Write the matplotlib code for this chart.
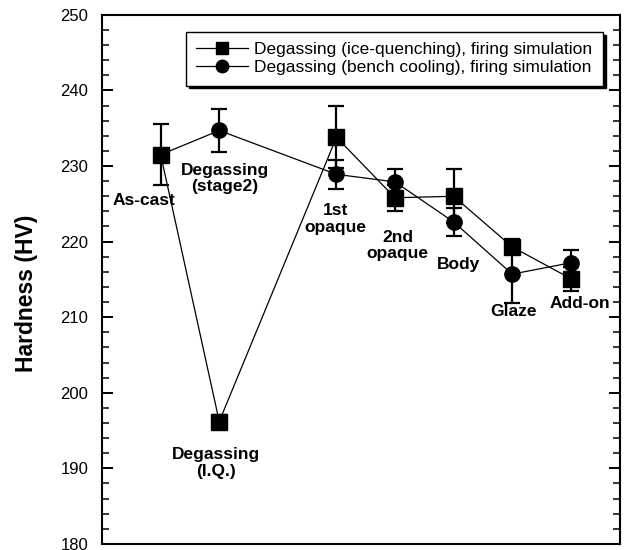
import matplotlib
matplotlib.use("Agg")
import matplotlib.pyplot as plt
from matplotlib.lines import Line2D
from matplotlib.ticker import MultipleLocator

plt.rcParams['font.family'] = ['Liberation Sans', 'DejaVu Sans']

# data
stages = ["As-cast", "Degassing\n(I.Q.)", "Degassing\n(stage2)", "1st\nopaque",
          "2nd\nopaque", "Body", "Glaze", "Add-on"]

iq_x = [1, 2, 4, 5, 6, 7, 8]
iq_hv = [231.5, 196.2, 233.8, 225.8, 226.0, 219.3, 215.1]
iq_err = [4.0, 0.9, 4.1, 1.7, 3.6, 1.0, 1.6]

bc_x = [1, 2, 4, 5, 6, 7, 8]
bc_hv = [231.5, 234.7, 228.9, 227.9, 222.6, 215.7, 217.2]
bc_err = [0.0, 2.9, 1.9, 1.7, 1.9, 3.8, 1.7]

# label centres near each point
label_x = [0.71, 1.95, 2.09, 3.98, 5.04, 6.08, 7.03, 8.16]
label_y = [225.5, 190.7, 228.4, 223.0, 219.5, 217.0, 210.7, 211.8]

fig, ax = plt.subplots(figsize=(6.34, 5.5), dpi=100)
fig.subplots_adjust(left=0.161, right=0.978, bottom=0.011, top=0.973)

ax.errorbar(bc_x, bc_hv, yerr=bc_err, color='black', marker='o', markersize=11,
            linewidth=0.9, elinewidth=1.6, capsize=5.5, capthick=1.6, zorder=2)
ax.errorbar(iq_x, iq_hv, yerr=iq_err, color='black', marker='s', markersize=11,
            linewidth=0.9, elinewidth=1.6, capsize=5.5, capthick=1.6, zorder=3)

for name, lx, ly in zip(stages, label_x, label_y):
    ax.text(lx, ly, name, ha='center', va='center', fontsize=12.5,
            fontweight='bold', linespacing=1.1)

ax.set_xlim(0, 8.84)
ax.set_ylim(180, 250)
ax.yaxis.set_major_locator(MultipleLocator(10))
ax.yaxis.set_minor_locator(MultipleLocator(2))
ax.set_xticks([])
ax.tick_params(axis='y', which='both', direction='in', right=True, labelsize=12, pad=10)
ax.tick_params(axis='y', which='major', length=8, width=1.4)
ax.tick_params(axis='y', which='minor', length=5, width=1.1)
for s in ax.spines.values():
    s.set_linewidth(1.5)

ax.set_ylabel("Hardness (HV)", fontsize=16.5, fontweight='bold')
ax.yaxis.set_label_coords(-0.124, 0.473)

handles = [Line2D([], [], color='black', marker='s', markersize=9, linewidth=0.9),
           Line2D([], [], color='black', marker='o', markersize=9, linewidth=0.9)]
labels = ['Degassing (ice-quenching), firing simulation',
          'Degassing (bench cooling), firing simulation']
leg = ax.legend(handles, labels, loc='upper right',
                bbox_to_anchor=(0.967, 0.968), fontsize=12.5, fancybox=False,
                edgecolor='black', framealpha=1, handlelength=3.0,
                borderpad=0.6, labelspacing=0.15, handletextpad=0.35,
                borderaxespad=0,
                shadow={'color': 'black', 'alpha': 1})
leg.get_frame().set_linewidth(1.0)

plt.savefig("out.png", dpi=100)
